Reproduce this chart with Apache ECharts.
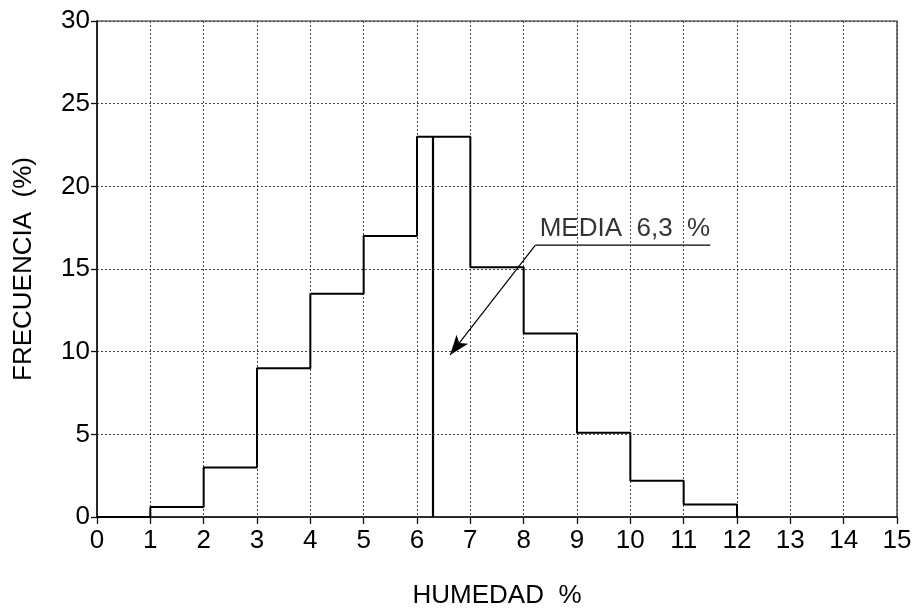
<!DOCTYPE html>
<html>
<head>
<meta charset="utf-8">
<script src="https://cdn.jsdelivr.net/npm/echarts@6/dist/echarts.min.js"></script>
<style>
  html, body { margin: 0; padding: 0; background: #fff; }
  #chart { width: 917px; height: 610px; }
</style>
</head>
<body>
<div id="chart"></div>
<script>
'use strict';
// bordes izquierdos de clase y frecuencia (%) de cada clase
var binStart = [0, 1, 2, 3, 4, 5, 6, 7, 8, 9, 10, 11, 12];
var frecuencia = [0, 0.6, 3, 9, 13.5, 17, 23, 15.1, 11.1, 5.1, 2.2, 0.75, 0];
var xTicks = [0, 1, 2, 3, 4, 5, 6, 7, 8, 9, 10, 11, 12, 13, 14, 15];
var yTicks = [0, 5, 10, 15, 20, 25, 30];

// media
var media = 6.3;
var mediaTop = 23;
var mediaText = 'MEDIA  6,3  %';
// anotacion: subrayado y flecha (coordenadas de datos)
var underline = [[11.5, 16.45], [8.22, 16.45]];
var arrow = [[8.22, 16.45], [6.62, 9.8]];
var textPos = [8.3, 17.4];

var FONT = '"Liberation Sans", Arial, Helvetica, sans-serif';
var FS = 26;

var chart = echarts.init(document.getElementById('chart'));

var histData = binStart.map(function (x, i) { return [x, frecuencia[i]]; });

var option = {
  animation: false,
  backgroundColor: '#fff',
  grid: {
    left: 97, right: 20, top: 21, bottom: 93,
    outerBoundsMode: 'none',
    containLabel: false,
    show: true,
    borderColor: '#222',
    borderWidth: 1.2
  },
  xAxis: {
    type: 'value',
    min: xTicks[0],
    max: xTicks[xTicks.length - 1],
    interval: 1,
    name: 'HUMEDAD  %',
    nameLocation: 'middle',
    nameGap: 66,
    nameTextStyle: { fontFamily: FONT, fontSize: FS, color: '#000' },
    axisLine: { onZero: false, lineStyle: { color: '#111', width: 1.5 } },
    axisTick: { show: true, length: 7, lineStyle: { color: '#111', width: 1.3 } },
    axisLabel: { fontFamily: FONT, fontSize: FS, color: '#000', margin: 11 },
    splitLine: { show: true, lineStyle: { color: '#444', type: [2, 2], width: 1 } }
  },
  yAxis: {
    type: 'value',
    min: yTicks[0],
    max: yTicks[yTicks.length - 1],
    interval: 5,
    name: 'FRECUENCIA  (%)',
    nameLocation: 'middle',
    nameGap: 60,
    nameTextStyle: { fontFamily: FONT, fontSize: FS, color: '#000' },
    axisLine: { show: true, lineStyle: { color: '#111', width: 1.5 } },
    axisTick: { show: true, length: 6, lineStyle: { color: '#111', width: 1.3 } },
    axisLabel: { fontFamily: FONT, fontSize: FS, color: '#000', margin: 7 },
    splitLine: { show: true, lineStyle: { color: '#444', type: [2, 2], width: 1 } }
  },
  series: [
    {
      name: 'histograma',
      type: 'line',
      step: 'end',
      data: histData,
      symbol: 'none',
      lineStyle: { color: '#000', width: 2 },
      z: 5
    },
    {
      name: 'media',
      type: 'line',
      data: [[media, 0], [media, mediaTop]],
      symbol: 'none',
      lineStyle: { color: '#000', width: 2.2 },
      z: 6
    },
    {
      name: 'subrayado',
      type: 'line',
      data: underline,
      symbol: 'none',
      lineStyle: { color: '#000', width: 1.2 },
      z: 6,
      markLine: {
        silent: true,
        symbol: ['none', 'arrow'],
        symbolSize: [11, 20],
        label: { show: false },
        lineStyle: { color: '#000', width: 1.2, type: 'solid' },
        data: [[{ coord: arrow[0] }, { coord: arrow[1] }]]
      }
    },
    {
      name: 'texto',
      type: 'scatter',
      data: [textPos],
      symbolSize: 0,
      label: {
        show: true,
        position: 'right',
        distance: 0,
        formatter: mediaText,
        fontFamily: FONT,
        fontSize: FS,
        color: '#000'
      },
      z: 7
    }
  ]
};

chart.setOption(option);
</script>
</body>
</html>
